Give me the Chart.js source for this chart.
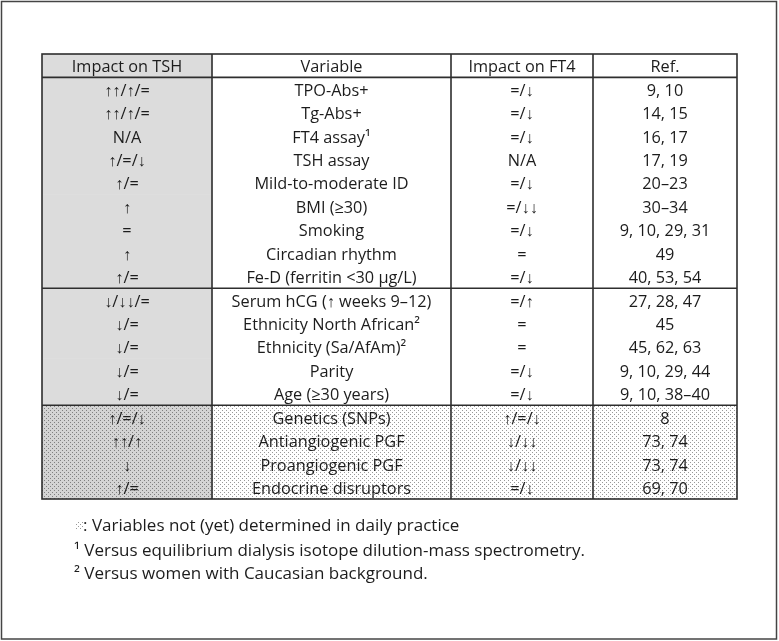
<!DOCTYPE html>
<html>
<head>
<meta charset="utf-8">
<script src="https://cdn.jsdelivr.net/npm/chart.js@4/dist/chart.umd.min.js"></script>
<style>
  html, body { margin: 0; background: #fff; }
</style>
</head>
<body>
<canvas id="tableChart" width="779" height="641"></canvas>
<script>
// table content
const columns = ['Impact on TSH', 'Variable', 'Impact on FT4', 'Ref.'];
const impactTSH = ['↑↑/↑/=', '↑↑/↑/=', 'N/A', '↑/=/↓', '↑/=', '↑', '=', '↑', '↑/=',
    '↓/↓↓/=', '↓/=', '↓/=', '↓/=', '↓/=',
    '↑/=/↓', '↑↑/↑', '↓', '↑/='];
const variables = ['TPO-Abs+', 'Tg-Abs+', 'FT4 assay¹', 'TSH assay', 'Mild-to-moderate ID', 'BMI (≥30)',
    'Smoking', 'Circadian rhythm', 'Fe-D (ferritin <30 μg/L)',
    'Serum hCG (↑ weeks 9–12)', 'Ethnicity North African²', 'Ethnicity (Sa/AfAm)²', 'Parity', 'Age (≥30 years)',
    'Genetics (SNPs)', 'Antiangiogenic PGF', 'Proangiogenic PGF', 'Endocrine disruptors'];
const impactFT4 = ['=/↓', '=/↓', '=/↓', 'N/A', '=/↓', '=/↓↓', '=/↓', '=', '=/↓',
    '=/↑', '=', '=', '=/↓', '=/↓',
    '↑/=/↓', '↓/↓↓', '↓/↓↓', '=/↓'];
const refs = ['9, 10', '14, 15', '16, 17', '17, 19', '20–23', '30–34', '9, 10, 29, 31', '49', '40, 53, 54',
    '27, 28, 47', '45', '45, 62, 63', '9, 10, 29, 44', '9, 10, 38–40',
    '8', '73, 74', '73, 74', '69, 70'];
const groupSizes = [9, 5, 4];
const footnotes = [': Variables not (yet) determined in daily practice',
    '¹ Versus equilibrium dialysis isotope dilution-mass spectrometry.',
    '² Versus women with Caucasian background.'];

const colWidths = [170, 239, 142, 144];
const FONT = '16.3px "Open Sans"';
const NOTE_FONT = '17px "Open Sans"';
const INK = '#1c1c1c';
const LINE = '#2e2e2e';
const GRAY = '#dcdcdc';

function stipple(bg, dot) {
    const c = document.createElement('canvas');
    c.width = 4; c.height = 4;
    const g = c.getContext('2d');
    g.fillStyle = bg; g.fillRect(0, 0, 4, 4);
    g.fillStyle = dot;
    g.fillRect(0, 0, 1, 1);
    g.fillRect(2, 2, 1, 1);
    return document.createElement('canvas').getContext('2d').createPattern(c, 'repeat');
}
const darkDots = stipple('#d4d4d4', '#808080');
const lightDots = stipple('#ffffff', '#999999');

const rowLabels = ['header'].concat(variables);
const cellText = [impactTSH, variables, impactFT4, refs];
const stippleStart = groupSizes[0] + groupSizes[1] + 1;

function cellFill(col, row) {
    if (row >= stippleStart) return col === 0 ? darkDots : lightDots;
    return col === 0 ? GRAY : '#ffffff';
}

const datasets = columns.map((name, col) => ({
    label: name,
    data: rowLabels.map(() => colWidths[col]),
    backgroundColor: rowLabels.map((_, row) => cellFill(col, row)),
    borderWidth: 0,
    barPercentage: 1,
    categoryPercentage: 1
}));

const tablePlugin = {
    id: 'tablePlugin',
    afterDatasetsDraw(chart) {
        const ctx = chart.ctx;
        const area = chart.chartArea;
        const yScale = chart.scales.y;
        const edge = i => (yScale.getPixelForValue(i - 1) + yScale.getPixelForValue(i)) / 2;

        ctx.save();
        ctx.fillStyle = INK;
        ctx.font = FONT;
        ctx.textAlign = 'center';
        ctx.textBaseline = 'middle';
        chart.data.datasets.forEach((ds, col) => {
            chart.getDatasetMeta(col).data.forEach((bar, row) => {
                const txt = row === 0 ? columns[col] : cellText[col][row - 1];
                ctx.fillText(txt, (bar.x + bar.base) / 2, bar.y + 2);
            });
        });

        // grid lines
        ctx.strokeStyle = LINE;
        ctx.lineWidth = 1.6;
        ctx.beginPath();
        chart.data.datasets.forEach((ds, col) => {
            const b = chart.getDatasetMeta(col).data[0];
            if (col > 0) { ctx.moveTo(b.base, area.top); ctx.lineTo(b.base, area.bottom); }
        });
        [1, 1 + groupSizes[0], 1 + groupSizes[0] + groupSizes[1]].forEach(i => {
            const y = edge(i);
            ctx.moveTo(area.left, y); ctx.lineTo(area.right, y);
        });
        ctx.stroke();
        ctx.strokeRect(area.left, area.top, area.right - area.left, area.bottom - area.top);

        // outer frame
        ctx.strokeStyle = '#444';
        ctx.lineWidth = 1.5;
        ctx.strokeRect(1.5, 1.5, chart.width - 4, chart.height - 3.5);

        // footnotes
        ctx.font = NOTE_FONT;
        ctx.textAlign = 'left';
        ctx.fillStyle = lightDots;
        ctx.fillRect(75, 521, 8, 9);
        ctx.fillStyle = INK;
        ctx.fillText(footnotes[0], 83, 526);
        ctx.fillText(footnotes[1], 74, 551);
        ctx.fillText(footnotes[2], 74, 574);
        ctx.restore();
    }
};

new Chart(document.getElementById('tableChart'), {
    type: 'bar',
    data: { labels: rowLabels, datasets: datasets },
    options: {
        indexAxis: 'y',
        responsive: false,
        animation: false,
        layout: { padding: { left: 42, right: 42, top: 54, bottom: 142 } },
        scales: {
            x: { display: false, stacked: true, min: 0, max: colWidths.reduce((a, b) => a + b, 0) },
            y: { display: false, stacked: true }
        },
        plugins: { legend: { display: false }, tooltip: { enabled: false } }
    },
    plugins: [tablePlugin]
});
</script>
</body>
</html>
